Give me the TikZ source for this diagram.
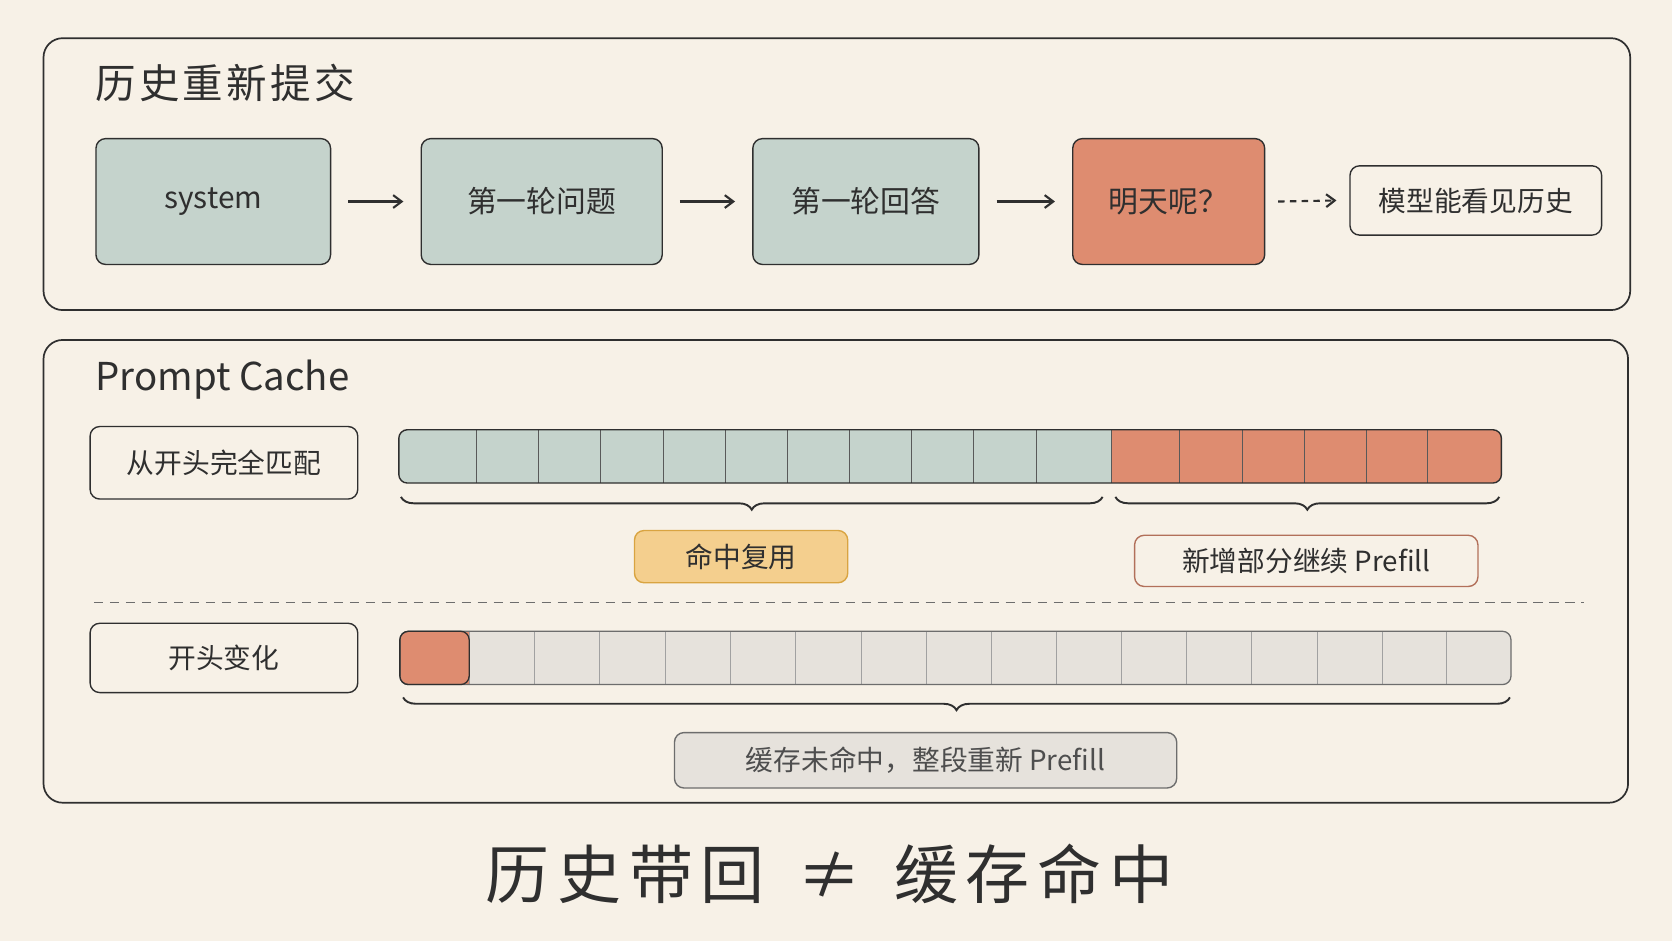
\documentclass[tikz,border=0pt]{standalone}
\usepackage{fontspec}
\setmainfont{Noto Sans CJK SC}
\usetikzlibrary{decorations.pathreplacing,arrows.meta}
\definecolor{bg}{HTML}{F7F1E7}
\definecolor{teal}{HTML}{C5D3CC}
\definecolor{org}{HTML}{DE8C70}
\definecolor{yel}{HTML}{F4CF8E}
\definecolor{yelb}{HTML}{D9A441}
\definecolor{gry}{HTML}{E6E2DC}
\definecolor{ink}{HTML}{2F2F2F}
\begin{document}
\begin{tikzpicture}[x=1pt,y=-1pt,
  frame/.style={draw=ink,line width=1.6pt,rounded corners=18pt},
  blk/.style={draw=ink,line width=1.3pt,rounded corners=9pt,font=\fontsize{28}{30}\selectfont,text=ink},
  lab/.style={draw=ink,line width=1.3pt,rounded corners=9pt,fill=bg,font=\fontsize{26}{28}\selectfont,text=ink},
  arr/.style={-{Straight Barb[length=8pt,width=12pt]},line width=2pt,draw=ink},
  cell/.style={draw=ink!80,line width=0.8pt},
  br/.style={decorate,decoration={brace,mirror,amplitude=12pt},line width=1.8pt,draw=ink}]
\fill[bg] (0,0) rectangle (1568,882);
\useasboundingbox (0,0) rectangle (1568,882);
% top frame
\node[frame,minimum width=1488pt,minimum height=255pt,anchor=north west] (f1) at (40,35) {};
\node[anchor=west,font=\fontsize{38}{40}\selectfont\addfontfeatures{LetterSpace=8},text=ink] (t1) at (86,78) {历史重新提交};
\node[blk,fill=teal,minimum width=220pt,minimum height=118pt] (s) at (200,189) {system};
\node[blk,fill=teal,minimum width=226pt,minimum height=118pt] (q) at (508,189) {第一轮问题};
\node[blk,fill=teal,minimum width=212pt,minimum height=118pt] (a) at (812,189) {第一轮回答};
\node[blk,fill=org,minimum width=180pt,minimum height=118pt] (m) at (1096,189) {明天呢？};
\node[blk,fill=bg,minimum width=236pt,minimum height=65pt,font=\fontsize{26}{28}\selectfont] (h) at (1384,188) {模型能看见历史};
\draw[arr] ([xshift=16pt]s.east) -- ([xshift=-16pt]q.west);
\draw[arr] ([xshift=16pt]q.east) -- ([xshift=-16pt]a.west);
\draw[arr] ([xshift=16pt]a.east) -- ([xshift=-16pt]m.west);
\draw[arr,dash pattern=on 6pt off 5pt] ([xshift=12pt]m.east) -- ([xshift=-12pt]h.west);
% bottom frame
\node[frame,minimum width=1486pt,minimum height=434pt,anchor=north west] (f2) at (40,318) {};
\node[anchor=west,font=\fontsize{36}{38}\selectfont,text=ink] (t2) at (86,356) {Prompt Cache};
\node[lab,minimum width=251pt,minimum height=68pt] (l1) at (210,434) {从开头完全匹配};
% bar 1
\fill[teal,rounded corners=8pt] (374,403) rectangle (1052,453);
\fill[org,rounded corners=8pt] (1042,403) rectangle (1408,453);
\fill[org] (1042,403) rectangle (1060,453);
\foreach \x in {447,505,563,622,680,738,797,855,913,972,1042,1106,1165,1223,1281,1339}
  \draw[cell] (\x,403) -- (\x,453);
\draw[ink,line width=1.3pt,rounded corners=8pt] (374,403) rectangle (1408,453);
\coordinate (b1a) at (376,466); \coordinate (b1b) at (1034,466);
\coordinate (b2a) at (1046,466); \coordinate (b2b) at (1406,466);
\draw[br] (b1a) -- (b1b);
\draw[br] (b2a) -- (b2b);
\node[lab,fill=yel,draw=yelb,minimum width=200pt,minimum height=49pt] (hit) at (695,522) {命中复用};
\node[lab,draw=org!80!black,minimum width=322pt,minimum height=48pt] (new) at (1225,526) {新增部分继续 Prefill};
\coordinate (d1) at (88,565); \coordinate (d2) at (1485,565);
\draw[ink!70,line width=1.2pt,dash pattern=on 9pt off 6pt] (d1) -- (d2);
% row 2
\node[lab,minimum width=251pt,minimum height=65pt] (l2) at (210,617) {开头变化};
\fill[gry,rounded corners=8pt] (375,592) rectangle (1417,642);
\fill[org,rounded corners=8pt] (375,592) rectangle (450,642);
\fill[gry] (440,592) rectangle (460,642);
\foreach \x in {440,501,562,624,685,746,808,869,930,991,1052,1113,1174,1235,1296,1356}
  \draw[cell,draw=ink!45] (\x,592) -- (\x,642);
\draw[ink!70,line width=1.2pt,rounded corners=8pt] (375,592) rectangle (1417,642);
\draw[ink,line width=1.2pt,rounded corners=8pt] (375,592) rectangle (440,642);
\coordinate (b3a) at (378,654); \coordinate (b3b) at (1416,654);
\draw[br] (b3a) -- (b3b);
\node[lab,fill=gry,draw=ink!70,minimum width=471pt,minimum height=52pt,text=ink!85] (miss) at (868,713) {缓存未命中，整段重新 Prefill};
\node[font=\fontsize{60}{64}\selectfont\addfontfeatures{LetterSpace=12},text=ink] (big) at (778,820) {历史带回 \,≠\, 缓存命中};
\end{tikzpicture}
\end{document}
